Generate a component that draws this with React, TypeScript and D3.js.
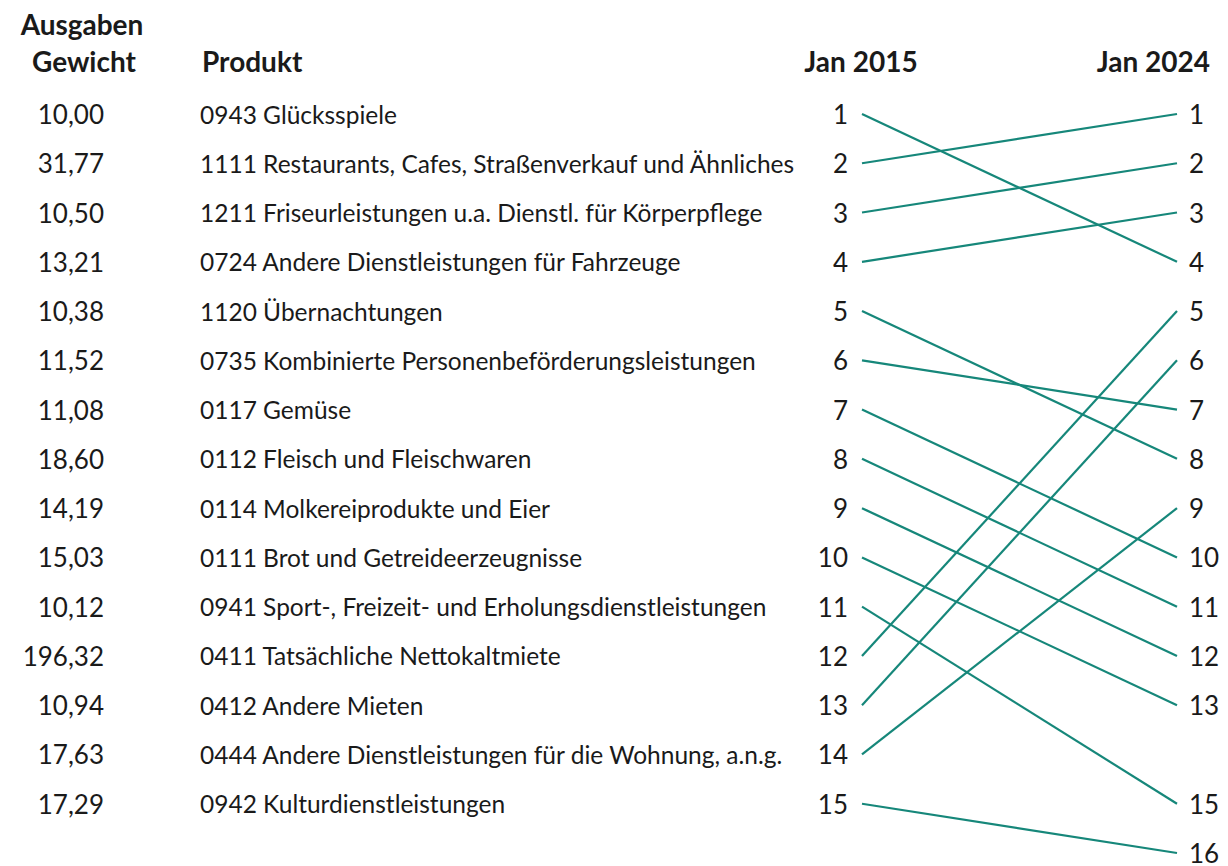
import React from "react";
import * as d3 from "d3";

const weights: number[] = [10.0, 31.77, 10.5, 13.21, 10.38, 11.52, 11.08, 18.6, 14.19, 15.03, 10.12, 196.32, 10.94, 17.63, 17.29];
const products: string[] = [
  "0943 Glücksspiele",
  "1111 Restaurants, Cafes, Straßenverkauf und Ähnliches",
  "1211 Friseurleistungen u.a. Dienstl. für Körperpflege",
  "0724 Andere Dienstleistungen für Fahrzeuge",
  "1120 Übernachtungen",
  "0735 Kombinierte Personenbeförderungsleistungen",
  "0117 Gemüse",
  "0112 Fleisch und Fleischwaren",
  "0114 Molkereiprodukte und Eier",
  "0111 Brot und Getreideerzeugnisse",
  "0941 Sport-, Freizeit- und Erholungsdienstleistungen",
  "0411 Tatsächliche Nettokaltmiete",
  "0412 Andere Mieten",
  "0444 Andere Dienstleistungen für die Wohnung, a.n.g.",
  "0942 Kulturdienstleistungen",
];
const rank2015: number[] = [1, 2, 3, 4, 5, 6, 7, 8, 9, 10, 11, 12, 13, 14, 15];
const rank2024: number[] = [4, 1, 2, 3, 8, 7, 10, 11, 12, 13, 15, 5, 6, 9, 16];
const headers = { weight: ["Ausgaben", "Gewicht"], product: "Produkt", left: "Jan 2015", right: "Jan 2024" };

const W = 1228;
const H = 866;
const FONT = "Lato, 'Noto Sans', sans-serif";
const TEAL = "#16877a";
const TXT = "#1a1a1a";

export default function App() {
  const y = d3.scaleLinear().domain([1, 16]).range([114, 853]);
  const fmt = (v: number) => d3.format(".2f")(v).replace(".", ",");
  const x1 = 862;
  const x2 = 1177;
  const line = d3.line<[number, number]>();
  return (
    <svg width={W} height={H} style={{ position: "absolute", left: 0, top: 0, background: "#fff" }} fontFamily={FONT}>
      <rect width={W} height={H} fill="#fff" />
      <g fontWeight="bold" fontSize={28} fill={TXT}>
        <text x={82} y={24} textAnchor="middle" dominantBaseline="central">{headers.weight[0]}</text>
        <text x={84} y={61} textAnchor="middle" dominantBaseline="central">{headers.weight[1]}</text>
        <text x={202} y={61} dominantBaseline="central">{headers.product}</text>
        <text x={861} y={61} textAnchor="middle" dominantBaseline="central">{headers.left}</text>
        <text x={1210} y={61} textAnchor="end" dominantBaseline="central">{headers.right}</text>
      </g>
      <g fill={TXT}>
        {weights.map((w, i) => (
          <text key={"w" + i} x={104} y={y(rank2015[i])} fontSize={26} textAnchor="end" dominantBaseline="central">{fmt(w)}</text>
        ))}
        {products.map((p, i) => (
          <text key={"p" + i} x={200} y={y(rank2015[i])} fontSize={24.5} dominantBaseline="central">{p}</text>
        ))}
        {rank2015.map((r, i) => (
          <text key={"l" + i} x={848} y={y(r)} fontSize={26} textAnchor="end" dominantBaseline="central">{r}</text>
        ))}
        {rank2024.map((r, i) => (
          <text key={"r" + i} x={1189} y={y(r)} fontSize={26} dominantBaseline="central">{r}</text>
        ))}
      </g>
      <g stroke={TEAL} strokeWidth={2.2} fill="none">
        {rank2015.map((r, i) => (
          <path key={"ln" + i} d={line([[x1, y(r)], [x2, y(rank2024[i])]]) || ""} />
        ))}
      </g>
    </svg>
  );
}
